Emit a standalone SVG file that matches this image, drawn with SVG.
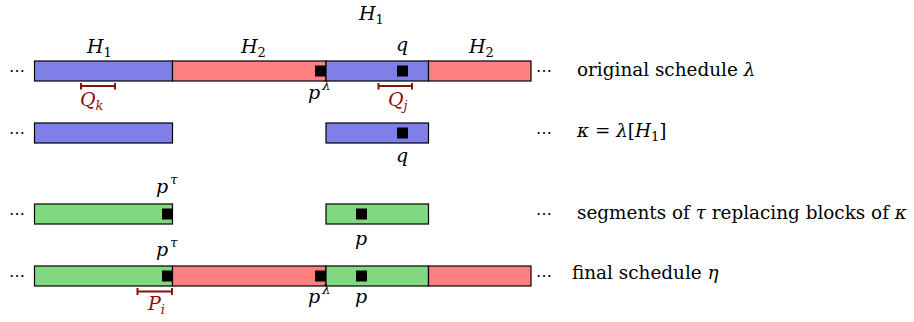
<svg xmlns="http://www.w3.org/2000/svg" width="914" height="322" viewBox="0 0 914 322">
<style>
  text { font-family: "DejaVu Serif", "Liberation Serif", serif; }
  .bar { stroke: #000; stroke-width: 1.2; }
  .blue { fill: #7f7fe8; }
  .red { fill: #ff8080; }
  .green { fill: #80d980; }
  .sq { fill: #000; }
  .m { font-style: italic; font-size: 19px; fill: #000; }
  .up { font-style: normal; font-size: 18.4px; fill: #000; }
  .sub { font-size: 13px; }
  .dots { font-size: 16px; fill: #000; }
  .dr { fill: #8b0f0f; }
  .br { stroke: #8b0f0f; stroke-width: 2; fill: none; }
</style>
<rect width="914" height="322" fill="#fff"/>

<!-- Row 1: original schedule -->
<g id="row1">
  <g id="r1-b1"><rect class="bar blue" x="34.5" y="61" width="138" height="20"/></g>
  <g id="r1-r1"><rect class="bar red" x="172.5" y="61" width="153.5" height="20"/><rect class="sq" x="315" y="65.5" width="11" height="11"/></g>
  <g id="r1-b2"><rect class="bar blue" x="326" y="61" width="102.5" height="20"/><rect class="sq" x="397" y="65.5" width="11" height="11"/></g>
  <g id="r1-r2"><rect class="bar red" x="428.5" y="61" width="102.5" height="20"/></g>
  <text class="m" x="87" y="53">H<tspan class="sub" font-style="normal" dy="4">1</tspan></text>
  <text class="m" x="241" y="53">H<tspan class="sub" font-style="normal" dy="4">2</tspan></text>
  <text class="m" x="359" y="20">H<tspan class="sub" font-style="normal" dy="4">1</tspan></text>
  <text class="m" x="469" y="53">H<tspan class="sub" font-style="normal" dy="4">2</tspan></text>
  <text class="m" x="396" y="51">q</text>
  <text class="m" x="308" y="99">p<tspan class="sub" dx="2" dy="-9">λ</tspan></text>
  <text class="m dr" x="80" y="106">Q<tspan class="sub" dy="4">k</tspan></text>
  <text class="m dr" x="388" y="106">Q<tspan class="sub" dy="4">j</tspan></text>
  <text class="dots" x="9" y="76">⋯</text>
  <text class="dots" x="536" y="76">⋯</text>
  <text class="up" x="577" y="76">original schedule <tspan font-style="italic">λ</tspan></text>
</g>

<!-- Row 2: kappa -->
<g id="row2">
  <g id="r2-b1"><rect class="bar blue" x="34.5" y="123" width="138" height="20"/></g>
  <g id="r2-b2"><rect class="bar blue" x="326" y="123" width="102.5" height="20"/><rect class="sq" x="397" y="127.5" width="11" height="11"/></g>
  <text class="m" x="396" y="162">q</text>
  <text class="dots" x="9" y="138">⋯</text>
  <text class="dots" x="536" y="138">⋯</text>
  <text class="up" x="577" y="137"><tspan font-style="italic">κ</tspan> = <tspan font-style="italic">λ</tspan>[<tspan font-style="italic">H</tspan><tspan class="sub" dy="4">1</tspan><tspan dy="-4">]</tspan></text>
</g>

<!-- Row 3: segments of tau -->
<g id="row3">
  <g id="r3-g1"><rect class="bar green" x="34.5" y="204" width="138" height="20"/><rect class="sq" x="162" y="208.5" width="10.5" height="11"/></g>
  <g id="r3-g2"><rect class="bar green" x="326" y="204" width="102.5" height="20"/><rect class="sq" x="356" y="208.5" width="11" height="11"/></g>
  <text class="m" x="156" y="193">p<tspan class="sub" dx="2" dy="-9">τ</tspan></text>
  <text class="m" x="355" y="245">p</text>
  <text class="dots" x="9" y="219">⋯</text>
  <text class="dots" x="536" y="219">⋯</text>
  <text class="up" x="577" y="219">segments of <tspan font-style="italic">τ</tspan> replacing blocks of <tspan font-style="italic">κ</tspan></text>
</g>

<!-- Row 4: final schedule -->
<g id="row4">
  <g id="r4-g1"><rect class="bar green" x="34.5" y="266" width="138" height="20"/><rect class="sq" x="162" y="270.5" width="10.5" height="11"/></g>
  <g id="r4-r1"><rect class="bar red" x="172.5" y="266" width="153.5" height="20"/><rect class="sq" x="315" y="270.5" width="11" height="11"/></g>
  <g id="r4-g2"><rect class="bar green" x="326" y="266" width="102.5" height="20"/><rect class="sq" x="356" y="270.5" width="11" height="11"/></g>
  <g id="r4-r2"><rect class="bar red" x="428.5" y="266" width="102.5" height="20"/></g>
  <text class="m" x="156" y="256">p<tspan class="sub" dx="2" dy="-9">τ</tspan></text>
  <text class="m" x="308" y="303">p<tspan class="sub" dx="2" dy="-9">λ</tspan></text>
  <text class="m" x="355" y="303">p</text>
  <text class="m dr" x="148" y="310">P<tspan class="sub" dy="4">i</tspan></text>
  <text class="dots" x="9" y="281">⋯</text>
  <text class="dots" x="536" y="281">⋯</text>
  <text class="up" x="572" y="279">final schedule <tspan font-style="italic">η</tspan></text>
</g>

<!-- Connectors: interval brackets -->
<g id="connectors">
  <path class="br" d="M81 86 H115 M81 83 V89.5 M115 83 V89.5"/>
  <path class="br" d="M378.5 86 H412 M378.5 83 V89.5 M412 83 V89.5"/>
  <path class="br" d="M137.5 291.5 H172 M137.5 288 V295 M172 288 V295"/>
</g>
</svg>
